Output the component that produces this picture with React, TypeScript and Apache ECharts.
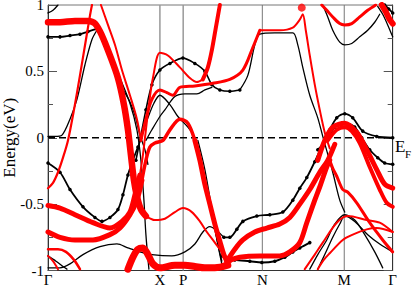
import React, { useEffect, useRef } from 'react';
import * as echarts from 'echarts';

type P = [number, number][];

// high-symmetry points along the k-path (path length units) and their labels
const KPOINTS = [0, 112, 135.3, 214.5, 296.5, 345];
const KLABELS = ['Γ', 'X', 'P', 'N', 'M', 'Γ'];
const VLINES = [112, 135.3, 214.5, 296.5];
const ZERO_LINE: P = [[0, 0], [345, 0]];

// ---- black bands ----
const B0: P = [[0, 0.94], [5, 0.96], [10, 1.0]];
const B1_FLAT: P = [[0, 0.76], [12, 0.76], [22, 0.77], [32, 0.78], [40, 0.8], [49, 0.82]];
const B1_DROP: P = [[49, 0.82], [56, 0.74], [62, 0.62], [72, 0.45], [82, 0.26], [89, 0.06], [93, -0.17], [96, -0.47], [98, -0.73], [101, -0.99]];
const B2_RISE: P = [[0, 0.01], [7, 0.01], [14, 0.02], [22, 0.14], [29, 0.29], [37, 0.55], [44, 0.74], [49, 0.81]];
const B2_DROP: P = [[49, 0.81], [57, 0.7], [65, 0.53], [74, 0.38], [82, 0.27], [87, 0.17], [92, 0.02], [97, -0.09], [100, -0.2]];
const B3_ARC: P = [[0, -0.19], [12, -0.26], [22, -0.39], [35, -0.52], [47, -0.6], [54, -0.63], [62, -0.6], [70, -0.54], [75, -0.43], [80, -0.28], [85, -0.17], [90, -0.07]];
const B3_XPEAK: P = [[90, -0.07], [95, 0.04], [100, 0.15], [106, 0.26], [112, 0.32], [122, 0.25], [130, 0.16], [140, 0.08], [147, 0.0], [152, -0.13], [157, -0.32], [162, -0.5], [167, -0.69], [172, -0.88], [175, -0.99]];
const B4: P = [[0, -0.89], [8, -0.93], [15, -0.97], [19, -0.99]];
const B5_LOW: P = [[0, -0.98], [12, -0.98], [22, -0.95], [35, -0.88], [52, -0.82], [69, -0.8], [80, -0.83], [92, -0.86], [104, -0.88], [124, -0.89], [137, -0.86], [147, -0.8], [155, -0.71], [162, -0.67], [169, -0.7], [176, -0.75]];
const B9_NM: P = [[176, -0.75], [182, -0.75], [189, -0.69], [195, -0.63], [209, -0.59], [222, -0.58], [235, -0.56], [245, -0.47], [252, -0.38], [259, -0.3], [267, -0.18], [275, -0.05], [282, 0.06], [289, 0.15], [297, 0.18], [305, 0.15], [315, 0.05], [329, 0.01], [345, 0.0]];
const B6_P: P = [[88, -0.17], [92, -0.02], [98, 0.21], [104, 0.4], [112, 0.51], [122, 0.56], [135, 0.6], [147, 0.56], [157, 0.5], [164, 0.4], [172, 0.36], [182, 0.35], [192, 0.36]];
const B6_N: P = [[192, 0.36], [200, 0.47], [207, 0.7], [212, 0.78], [227, 0.79], [245, 0.79], [250, 0.7], [255, 0.53], [262, 0.32], [270, 0.15], [275, 0.01], [285, -0.26], [292, -0.47], [297, -0.56]];
const B8: P = [[98, -0.02], [104, 0.06], [112, 0.16], [117, 0.21], [127, 0.31], [137, 0.33], [149, 0.33], [157, 0.36], [164, 0.38]];
const B7: P = [[150, -0.02], [157, -0.24], [164, -0.54], [170, -0.8], [174, -0.93]];
const B10: P = [[270, -0.09], [279, -0.02], [287, 0.08], [297, 0.11], [307, 0.08], [314, 0.0], [322, -0.09], [330, -0.15], [337, -0.19], [345, -0.2]];
const B11: P = [[174, -0.89], [187, -0.92], [202, -0.93], [214, -0.94], [227, -0.93], [237, -0.9], [245, -0.86], [252, -0.83], [262, -0.79]];
const B12: P = [[262, -0.99], [270, -0.88], [279, -0.77], [287, -0.65], [297, -0.58], [307, -0.62], [317, -0.73], [327, -0.86], [335, -0.98]];
const B13: P = [[270, -0.99], [277, -0.88], [285, -0.75], [292, -0.65], [297, -0.59], [307, -0.63], [320, -0.73], [332, -0.8], [345, -0.86]];
const B14: P = [[275, 1.0], [280, 0.91], [285, 0.81], [292, 0.72], [297, 0.7], [304, 0.71], [312, 0.76], [320, 0.81], [327, 0.87], [332, 0.93]];
const B15: P = [[330, 0.99], [335, 0.93], [340, 0.85], [345, 0.76]];
const B16: P = [[337, 1.0], [341, 0.97], [345, 0.94]];

// ---- red (fat) bands ----
const R1_FAT: P = [[0, 0.87], [12, 0.87], [27, 0.88], [40, 0.88], [47, 0.86], [54, 0.77], [62, 0.62], [70, 0.45], [76, 0.25], [80, 0.06], [83, -0.13], [86, -0.32], [89, -0.44], [93, -0.54], [98, -0.59]];
const R1_THIN: P = [[98, -0.59], [107, -0.62], [117, -0.61], [127, -0.56], [135, -0.53], [144, -0.56], [152, -0.63], [159, -0.71], [165, -0.77], [172, -0.84], [179, -0.91]];
const R2_ARC: P = [[0, -0.51], [12, -0.53], [27, -0.58], [45, -0.64], [62, -0.68], [74, -0.63], [82, -0.56], [87, -0.43], [92, -0.28]];
const R2_X: P = [[92, -0.28], [95, -0.13], [98, 0.06], [101, 0.25], [105, 0.45], [112, 0.64], [120, 0.62], [132, 0.53], [142, 0.45], [149, 0.42], [155, 0.44]];
const R2_UP: P = [[155, 0.44], [160, 0.53], [164, 0.66], [168, 0.83], [172, 1.0]];
const R3_ARC: P = [[0, -0.71], [12, -0.75], [27, -0.77], [45, -0.77], [62, -0.73], [72, -0.68], [82, -0.58], [89, -0.47], [94, -0.32]];
const R3_P: P = [[94, -0.32], [98, -0.17], [102, -0.07], [107, -0.04], [115, -0.02], [122, 0.06], [132, 0.14], [140, 0.11], [147, -0.02]];
const R3_DROP: P = [[147, -0.02], [152, -0.17], [157, -0.35], [162, -0.5], [167, -0.65], [172, -0.78], [176, -0.88], [179, -0.93]];
const R4: P = [[53, 1.0], [60, 0.85], [67, 0.7], [74, 0.51], [82, 0.32], [89, 0.14], [93, -0.02]];
const R5: P = [[0, -0.84], [10, -0.84], [18, -0.86], [26, -0.92], [32, -0.99]];
const R6: P = [[0, -0.89], [5, -0.93], [10, -0.99]];
const R7: P = [[0, -0.38], [5, -0.34], [10, -0.26], [15, -0.15], [20, -0.02], [26, 0.21], [32, 0.47], [38, 0.74], [42, 0.92], [44, 1.0]];
const R8_XN: P = [[93, -0.02], [98, 0.14], [104, 0.29], [112, 0.36], [119, 0.34], [125, 0.32], [132, 0.38], [147, 0.39], [165, 0.41], [182, 0.44], [195, 0.51], [205, 0.68], [212, 0.81]];
const R8_NM: P = [[212, 0.81], [232, 0.81], [245, 0.83], [252, 0.89], [255, 0.93], [258, 0.81], [262, 0.62], [267, 0.4], [272, 0.21], [277, 0.04], [282, -0.08]];
const R10_FAT: P = [[80, -0.99], [85, -0.9], [90, -0.84], [95, -0.83], [100, -0.88], [105, -0.95], [112, -0.98], [127, -0.96], [137, -0.96], [147, -0.97], [157, -0.98], [167, -0.98], [180, -0.96]];
const R12: P = [[179, -0.93], [187, -0.84], [195, -0.77], [207, -0.71], [219, -0.68], [232, -0.65], [242, -0.6], [252, -0.5], [262, -0.39], [272, -0.26], [280, -0.17], [287, -0.05]];
const R13_FAT: P = [[180, -0.93], [192, -0.9], [212, -0.89], [232, -0.89], [242, -0.86], [252, -0.79], [259, -0.64], [267, -0.47], [272, -0.37], [279, -0.22], [282, -0.17]];
const R13_THIN: P = [[282, -0.17], [285, -0.23], [289, -0.29], [295, -0.39], [300, -0.41], [309, -0.49], [322, -0.64], [335, -0.77], [345, -0.86]];
const R14: P = [[257, -0.99], [267, -0.88], [275, -0.79], [289, -0.64], [300, -0.59], [319, -0.62], [332, -0.64], [345, -0.71]];
const R15: P = [[270, -0.99], [276, -0.92], [282, -0.87], [295, -0.77], [305, -0.73], [319, -0.69], [329, -0.68], [345, -0.71]];
const R16: P = [[270, -0.17], [277, -0.02], [285, 0.08], [297, 0.11], [309, 0.04], [319, -0.09], [329, -0.24], [337, -0.35], [345, -0.38]];
const R17: P = [[280, -0.02], [289, 0.06], [297, 0.08], [304, 0.05], [312, -0.04], [322, -0.22], [332, -0.39], [339, -0.49], [345, -0.52]];
const R18: P = [[274, 1.0], [279, 0.96], [285, 0.91], [292, 0.86], [297, 0.85], [304, 0.86], [312, 0.91], [320, 0.96], [328, 1.0]];
const R19: P = [[334, 1.0], [338, 0.95], [342, 0.89], [345, 0.86]];
const R_DOTS: P = [[254, 0.98], [180, -0.93]];

const FONT = 'Liberation Serif';

function band(data: P, color: string, width: number, dotted = false, z = 2): any {
  return {
    type: 'line',
    data,
    smooth: 0.3,
    showSymbol: dotted,
    symbol: 'circle',
    symbolSize: dotted ? 3.5 : 0,
    itemStyle: { color },
    lineStyle: { color, width, cap: 'round', join: 'round' },
    silent: true,
    z,
  };
}

export default function App() {
  const ref = useRef<HTMLDivElement>(null);
  useEffect(() => {
    document.body.style.margin = '0';
    const chart = echarts.init(ref.current!, undefined, { renderer: 'svg' });
    const K = '#000';
    const R = '#ff0000';
    const series: any[] = [];
    VLINES.forEach((k, i) => {
      series.push({
        type: 'line',
        data: [[k, -1], [k, 1]],
        showSymbol: false,
        silent: true,
        lineStyle: { color: i < 2 ? '#999' : '#777', width: i < 2 ? 1.5 : 1 },
        z: 1,
      });
    });
    series.push({
      type: 'line',
      data: ZERO_LINE,
      showSymbol: false,
      silent: true,
      lineStyle: { color: '#000', width: 1.5, type: [7, 4] },
      z: 1,
    });
    // black
    series.push(
      band(B0, K, 1.3),
      band(B1_FLAT, K, 1.8, true),
      band(B1_DROP, K, 1.3),
      band(B2_RISE, K, 1.3),
      band(B2_DROP, K, 1.3),
      band(B3_ARC, K, 1.8, true),
      band(B3_XPEAK, K, 1.3),
      band(B4, K, 1.3),
      band(B5_LOW, K, 1.3),
      band(B9_NM, K, 1.8, true),
      band(B6_P, K, 1.6, true),
      band(B6_N, K, 1.3),
      band(B8, K, 1.3),
      band(B7, K, 1.3),
      band(B10, K, 1.8, true),
      band(B11, K, 2, true),
      band(B12, K, 1.3),
      band(B13, K, 1.3),
      band(B14, K, 1.3),
      band(B15, K, 1.3),
      band(B16, K, 1.8, true),
    );
    // red
    series.push(
      band(R1_FAT, R, 6.5, false, 3),
      band(R1_THIN, R, 2, false, 3),
      band(R2_ARC, R, 5, false, 3),
      band(R2_X, R, 2, false, 3),
      band(R2_UP, R, 4, false, 3),
      band(R3_ARC, R, 5, false, 3),
      band(R3_P, R, 3.5, false, 3),
      band(R3_DROP, R, 5, false, 3),
      band(R4, R, 2, false, 3),
      band(R5, R, 2.5, false, 3),
      band(R6, R, 2, false, 3),
      band(R7, R, 2.2, false, 3),
      band(R8_XN, R, 3, false, 3),
      band(R8_NM, R, 2, false, 3),
      band(R10_FAT, R, 7, false, 3),
      band(R12, R, 5, false, 3),
      band(R13_FAT, R, 5, false, 3),
      band(R13_THIN, R, 3, false, 3),
      band(R14, R, 2, false, 3),
      band(R15, R, 2, false, 3),
      band(R16, R, 5, false, 3),
      band(R17, R, 4, false, 3),
      band(R18, R, 3, false, 3),
      band(R19, R, 6, false, 3),
      {
        type: 'scatter',
        data: R_DOTS,
        symbolSize: 8,
        itemStyle: { color: R },
        silent: true,
        z: 3,
      },
    );

    const yBase = {
      type: 'value',
      min: -1,
      max: 1,
      interval: 0.5,
      axisLine: { show: true, onZero: false, lineStyle: { color: '#333', width: 1 } },
      axisTick: { show: true, inside: true, length: 9, lineStyle: { color: '#555' } },
      minorTick: { show: true, splitNumber: 2, length: 5, lineStyle: { color: '#555' } },
      splitLine: { show: false },
    };

    chart.setOption({
      animation: false,
      backgroundColor: '#fff',
      grid: {
        left: 48, right: 22.3, top: 5, bottom: 16.5,
        show: true, borderColor: '#777', borderWidth: 1,
        outerBoundsMode: 'none', containLabel: false,
      },
      xAxis: {
        type: 'value',
        min: 0,
        max: 345,
        axisLine: { show: true, onZero: false, lineStyle: { color: '#333' } },
        axisTick: { show: false },
        splitLine: { show: false },
        axisLabel: {
          customValues: KPOINTS,
          formatter: (v: number) => {
            const i = KPOINTS.findIndex((k) => Math.abs(k - v) < 0.01);
            return i >= 0 ? KLABELS[i] : '';
          },
          fontFamily: FONT,
          fontSize: 15,
          color: '#000',
          margin: 2,
        },
      },
      yAxis: [
        {
          ...yBase,
          position: 'left',
          axisLabel: { color: '#000', fontFamily: FONT, fontSize: 15, margin: 4 },
          name: 'Energy(eV)',
          nameLocation: 'middle',
          nameGap: 30,
          nameMoveOverlap: false,
          nameTextStyle: { fontFamily: FONT, fontSize: 17, color: '#000' },
        },
        {
          ...yBase,
          position: 'right',
          axisLabel: { show: false },
        },
      ],
      graphic: [
        { type: 'text', left: 395, top: 138, style: { text: 'E', font: `17px ${FONT}`, fill: '#000' } },
        { type: 'text', left: 405, top: 148, style: { text: 'F', font: `11px ${FONT}`, fill: '#000' } },
      ],
      series,
    });
    return () => chart.dispose();
  }, []);
  return <div ref={ref} style={{ width: 415, height: 287 }} />;
}
